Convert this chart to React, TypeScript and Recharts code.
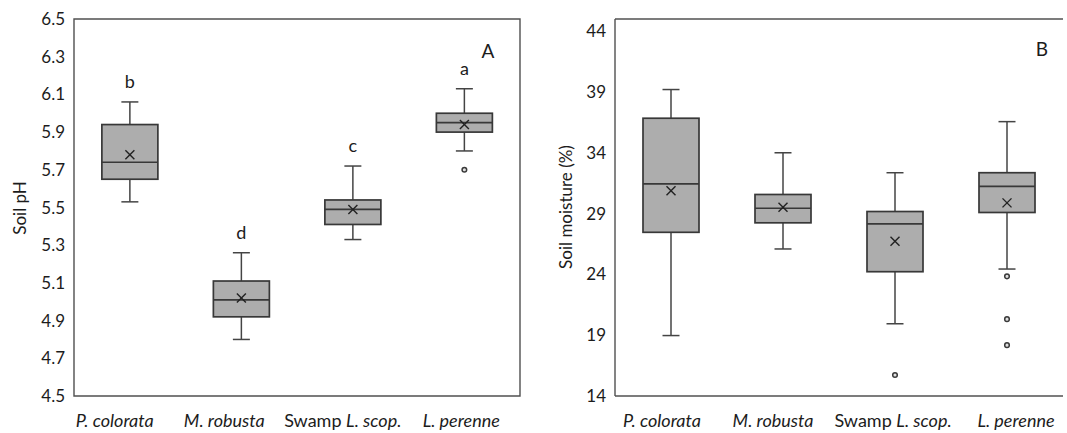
import { ComposedChart, Bar, XAxis, YAxis, ReferenceArea, ReferenceLine } from 'recharts';

const species = ['P. colorata', 'M. robusta', 'Swamp L. scop.', 'L. perenne'];

// panel A - soil pH
const phMin = [5.53, 4.8, 5.33, 5.8];
const phQ1 = [5.65, 4.92, 5.41, 5.9];
const phMedian = [5.74, 5.01, 5.49, 5.95];
const phQ3 = [5.94, 5.11, 5.54, 6.0];
const phMax = [6.06, 5.26, 5.72, 6.13];
const phMean = [5.78, 5.02, 5.49, 5.94];
const phOutliers = [[], [], [], [5.7]];
const phLetters = ['b', 'd', 'c', 'a'];
const phTicks = [4.5, 4.7, 4.9, 5.1, 5.3, 5.5, 5.7, 5.9, 6.1, 6.3, 6.5];

// panel B - soil moisture (%)
const moistMin = [18.97, 26.09, 19.94, 24.44];
const moistQ1 = [27.46, 28.24, 24.22, 29.09];
const moistMedian = [31.45, 29.44, 28.15, 31.23];
const moistQ3 = [36.84, 30.57, 29.17, 32.36];
const moistMax = [39.2, 34.0, 32.36, 36.56];
const moistMean = [30.87, 29.52, 26.72, 29.88];
const moistOutliers = [[], [], [15.73], [23.84, 20.32, 18.18]];
const moistTicks = [14, 19, 24, 29, 34, 39, 44];

const FONT = 'Lato, "Open Sans", sans-serif';
const TEXT = '#1c1c1c';
const FRAME = '#505050';

// label nudges, the category names in the original aren't centred on the boxes
const shiftA = [-15, -17, -10, -3];
const shiftB = [-9, -10, -2, 9];

const buildRows = (
  min: number[], q1: number[], med: number[], q3: number[], max: number[],
  mean: number[], outliers: number[][], letters?: string[]
) =>
  species.map((name, i) => ({
    name,
    min: min[i],
    q1: q1[i],
    median: med[i],
    q3: q3[i],
    max: max[i],
    mean: mean[i],
    outliers: outliers[i],
    letter: letters ? letters[i] : undefined,
  }));

const phRows = buildRows(phMin, phQ1, phMedian, phQ3, phMax, phMean, phOutliers, phLetters);
const moistRows = buildRows(moistMin, moistQ1, moistMedian, moistQ3, moistMax, moistMean, moistOutliers);

const BoxShape = (props: any) => {
  const { x, y, width, height, payload } = props;
  const top = Math.min(y, y + height);
  const span = Math.abs(height);
  const range = payload.max - payload.min;
  // bar spans min..max, so reuse its pixel extent as the value scale
  const py = (v: number) => top + ((payload.max - v) / range) * span;
  const cx = x + width / 2;
  const cap = 8.5;
  const m = 4.5;
  const yMean = py(payload.mean);
  return (
    <g>
      <line x1={cx} x2={cx} y1={py(payload.max)} y2={py(payload.q3)} stroke="#444" strokeWidth={1.5} />
      <line x1={cx} x2={cx} y1={py(payload.q1)} y2={py(payload.min)} stroke="#444" strokeWidth={1.5} />
      <line x1={cx - cap} x2={cx + cap} y1={py(payload.max)} y2={py(payload.max)} stroke="#444" strokeWidth={1.5} />
      <line x1={cx - cap} x2={cx + cap} y1={py(payload.min)} y2={py(payload.min)} stroke="#444" strokeWidth={1.5} />
      <rect
        x={x}
        y={py(payload.q3)}
        width={width}
        height={py(payload.q1) - py(payload.q3)}
        fill="#adadad"
        stroke="#383838"
        strokeWidth={1.7}
      />
      <line x1={x} x2={x + width} y1={py(payload.median)} y2={py(payload.median)} stroke="#383838" strokeWidth={1.7} />
      <line x1={cx - m} x2={cx + m} y1={yMean - m} y2={yMean + m} stroke="#222" strokeWidth={1.4} />
      <line x1={cx - m} x2={cx + m} y1={yMean + m} y2={yMean - m} stroke="#222" strokeWidth={1.4} />
      {payload.outliers.map((o: number, k: number) => (
        <circle key={k} cx={cx} cy={py(o)} r={2.3} fill="#e0e0e0" stroke="#3a3a3a" strokeWidth={1.5} />
      ))}
      {payload.letter && (
        <text x={cx} y={py(payload.max) - 14} textAnchor="middle" fontSize={18} fontFamily={FONT} fill={TEXT}>
          {payload.letter}
        </text>
      )}
    </g>
  );
};

const SpeciesTick = (props: any) => {
  const { x, y, payload, index, shifts } = props;
  const name: string = payload.value;
  const tx = x + (shifts[index] ?? 0);
  const isSwamp = name.startsWith('Swamp ');
  return (
    <text x={tx} y={y + 23} textAnchor="middle" fontSize={18} fontFamily={FONT} fill={TEXT}>
      {isSwamp ? (
        <>
          <tspan fontStyle="normal">Swamp </tspan>
          <tspan fontStyle="italic">{name.slice(6)}</tspan>
        </>
      ) : (
        <tspan fontStyle="italic">{name}</tspan>
      )}
    </text>
  );
};

const tickStyle = { fontSize: 17, fontFamily: FONT, fill: TEXT };

const App = () => {
  return (
    <div style={{ position: 'absolute', left: 0, top: 0, width: 1067, height: 433, background: '#fff' }}>
      <div style={{ position: 'absolute', left: 0, top: 0 }}>
        <ComposedChart width={540} height={433} data={phRows} margin={{ top: 19, right: 20, bottom: 0, left: 0 }} barCategoryGap="25%">
          <XAxis
            dataKey="name"
            height={37}
            interval={0}
            tickLine={false}
            axisLine={false}
            tick={<SpeciesTick shifts={shiftA} />}
          />
          <YAxis
            width={74}
            domain={[4.5, 6.5]}
            ticks={phTicks}
            interval={0}
            tickLine={false}
            axisLine={false}
            tickMargin={3}
            tickFormatter={(v: number) => v.toFixed(1)}
            tick={tickStyle}
          />
          <ReferenceArea y1={4.5} y2={6.5} fill="none" stroke={FRAME} strokeWidth={1.4} />
          <Bar dataKey={(d: any) => [d.min, d.max]} shape={<BoxShape />} isAnimationActive={false} />
        </ComposedChart>
      </div>
      <div style={{ position: 'absolute', left: 540, top: 0 }}>
        <ComposedChart width={527} height={433} data={moistRows} margin={{ top: 19, right: 4, bottom: 0, left: 0 }} barCategoryGap="25%">
          <XAxis
            dataKey="name"
            height={37}
            interval={0}
            tickLine={false}
            axisLine={{ stroke: FRAME, strokeWidth: 1.4 }}
            tick={<SpeciesTick shifts={shiftB} />}
          />
          <YAxis
            width={75}
            domain={[14, 45]}
            ticks={moistTicks}
            interval={0}
            tickLine={false}
            axisLine={{ stroke: FRAME, strokeWidth: 1.4 }}
            tickMargin={3}
            tick={tickStyle}
          />
          <ReferenceLine y={45} stroke={FRAME} strokeWidth={1.4} />
          <Bar dataKey={(d: any) => [d.min, d.max]} shape={<BoxShape />} isAnimationActive={false} />
        </ComposedChart>
      </div>
      <svg width={1067} height={433} style={{ position: 'absolute', left: 0, top: 0, pointerEvents: 'none' }}>
        <text x={488} y={58} textAnchor="middle" fontSize={19} fontFamily={FONT} fill={TEXT}>A</text>
        <text x={1042} y={56} textAnchor="middle" fontSize={19} fontFamily={FONT} fill={TEXT}>B</text>
        <text transform="translate(25.5, 208) rotate(-90)" textAnchor="middle" fontSize={17} fontFamily={FONT} fill={TEXT}>
          Soil pH
        </text>
        <text transform="translate(572, 207) rotate(-90)" textAnchor="middle" fontSize={17} fontFamily={FONT} fill={TEXT}>
          Soil moisture (%)
        </text>
      </svg>
    </div>
  );
};

export default App;
